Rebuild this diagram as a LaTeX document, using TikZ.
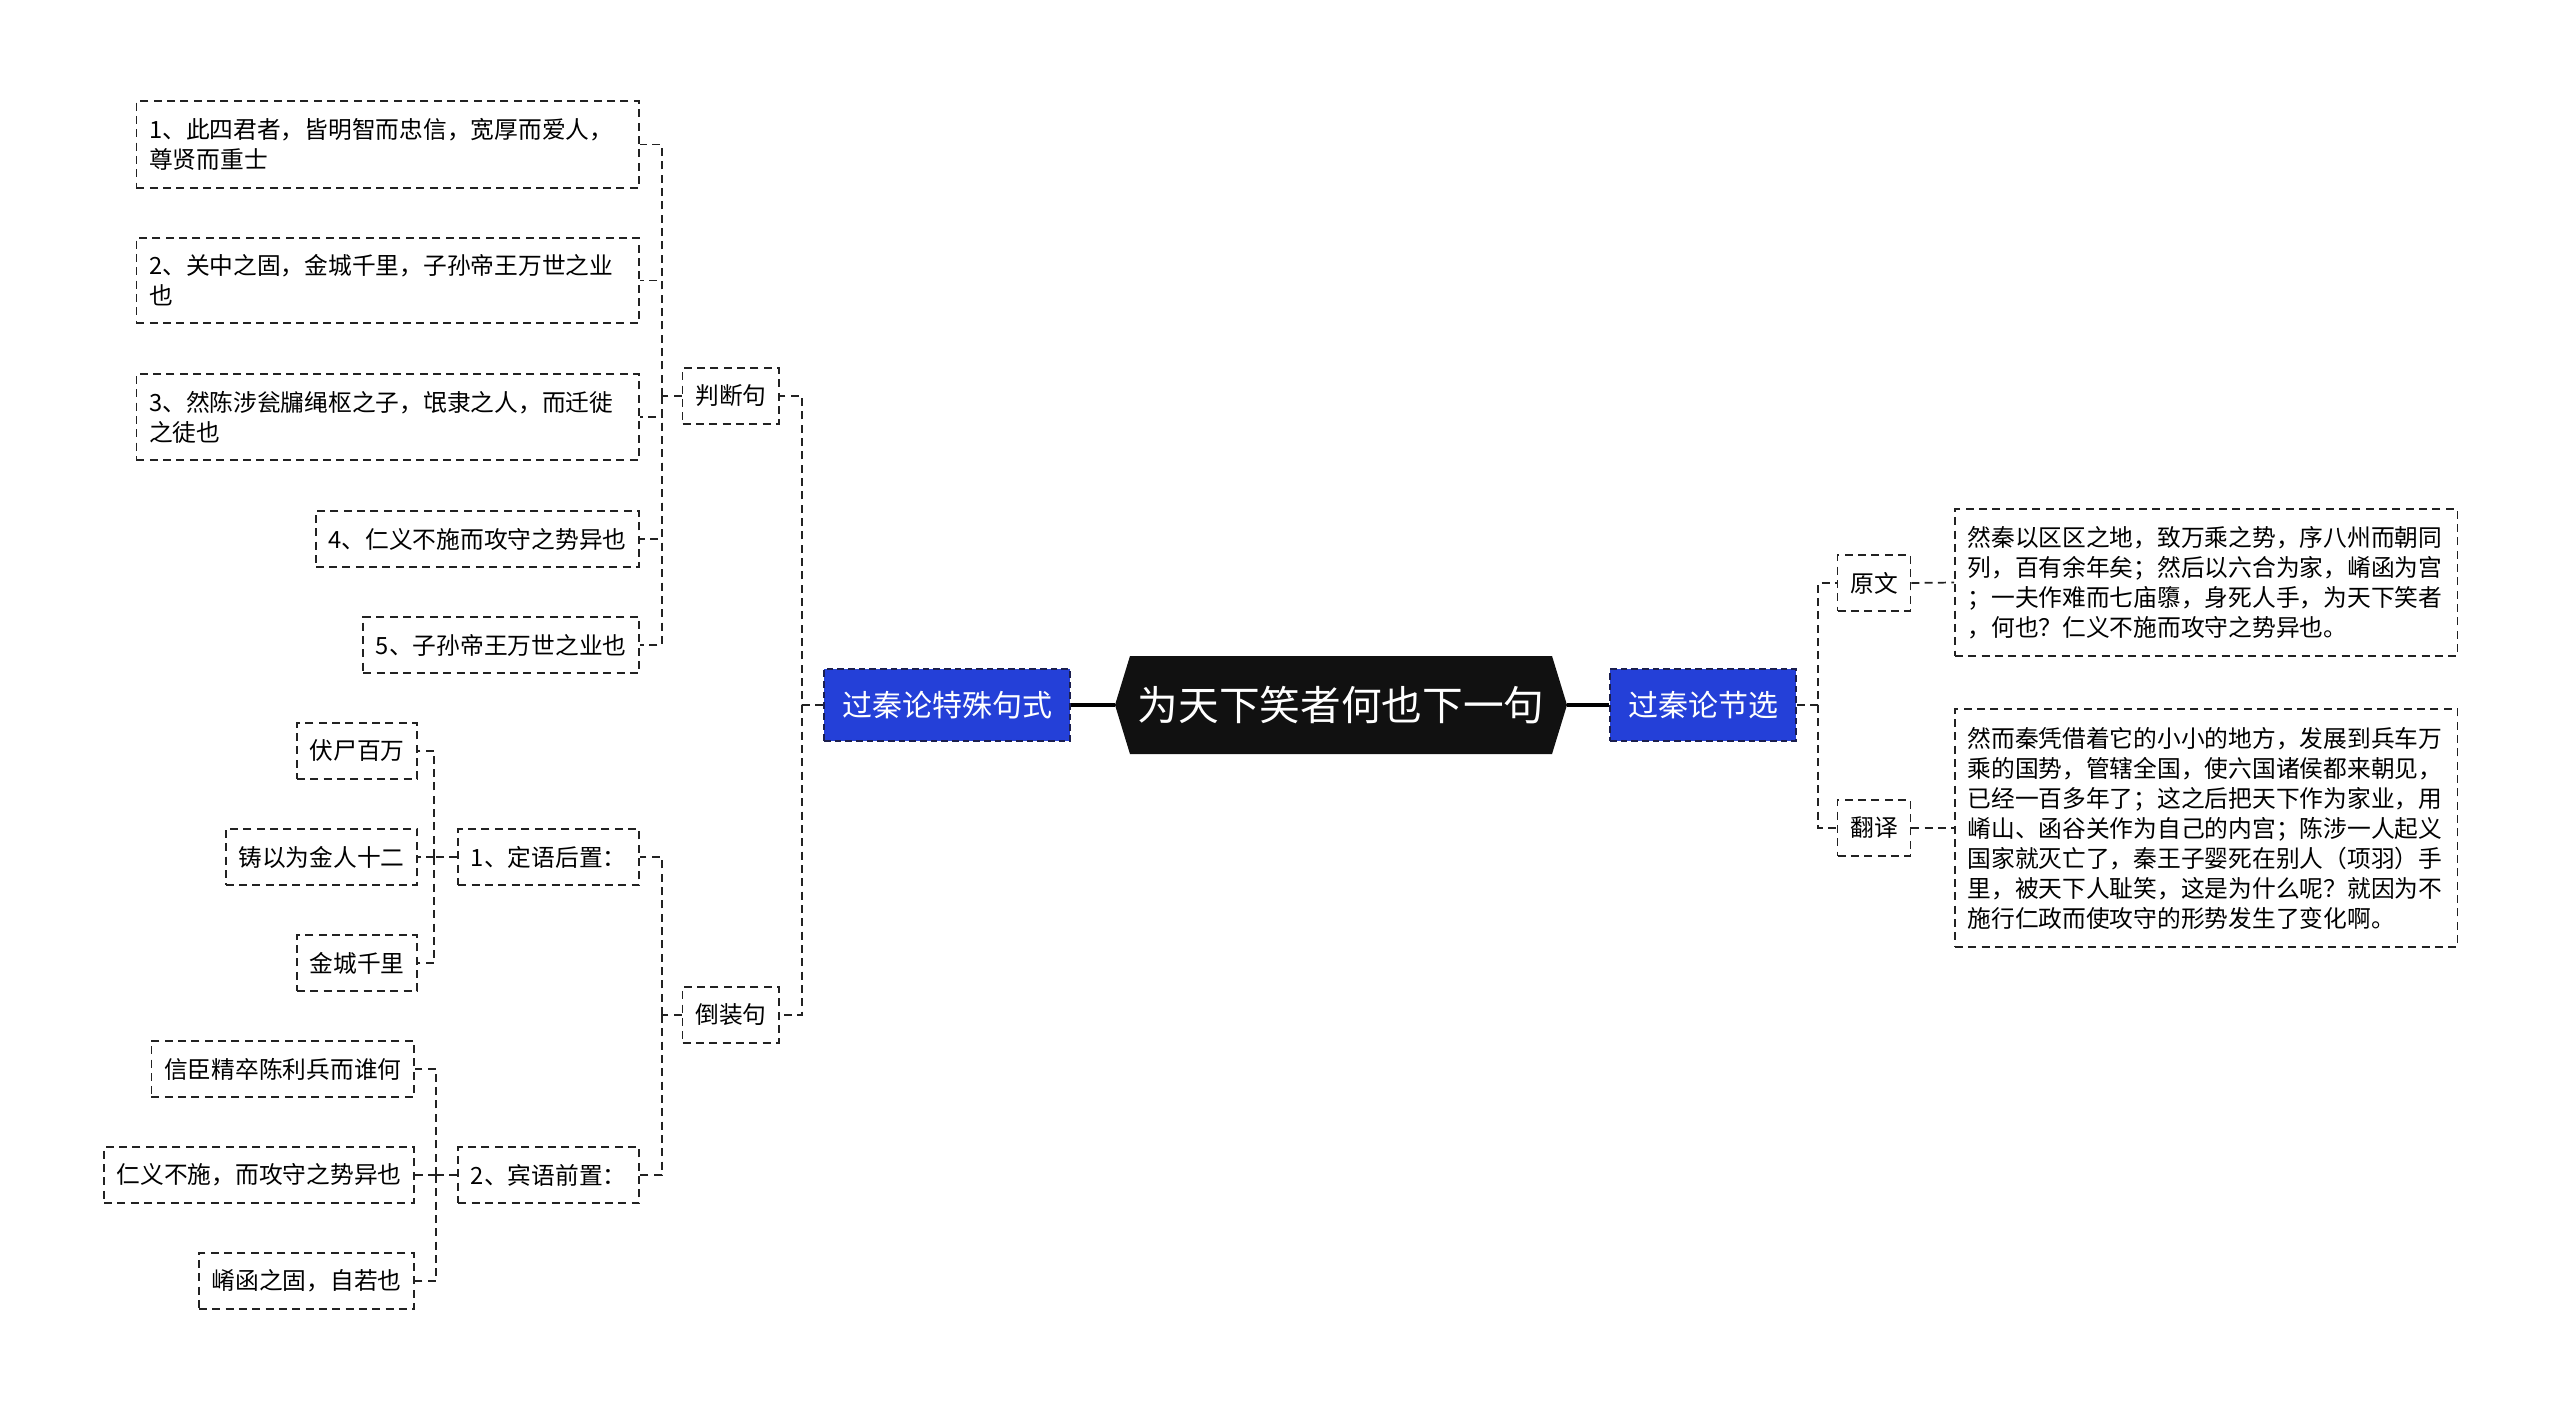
\documentclass[tikz,border=0pt]{standalone}
\usepackage{fontspec}
\setmainfont{Noto Sans CJK SC}
\usepackage{xcolor}
\usetikzlibrary{shapes.symbols}

\definecolor{rootfill}{HTML}{111111}
\definecolor{topicblue}{HTML}{2440D8}
\definecolor{topicedge}{HTML}{1B1F4F}
\definecolor{linegray}{HTML}{222222}

\tikzset{
  leaf/.style={draw=linegray, line width=1.3pt, dash pattern=on 6pt off 4pt,
    inner xsep=9.5pt, inner ysep=0pt, minimum height=42pt,
    font=\fontsize{17.8}{22.5}\selectfont},
  textbox/.style={leaf, align=left, text width=358pt},
  topic/.style={fill=topicblue, draw=topicedge, line width=1.3pt,
    dash pattern=on 5pt off 3pt, text=white, inner xsep=13.5pt,
    minimum height=54pt, font=\fontsize{22.5}{27}\selectfont},
  link/.style={draw=linegray, line width=1.3pt, dash pattern=on 6pt off 4pt},
  trunk/.style={draw=black, line width=2.3pt}
}

\begin{document}
\begin{tikzpicture}[x=0.75pt, y=-0.75pt]
    % canvas in pixels of the reference, y downwards
    \useasboundingbox (0,0) rectangle (2560,1411);

    \node[signal, signal to=west and east, signal pointer angle=146, fill=rootfill,
      text=white, minimum width=339pt, minimum height=73.5pt, inner xsep=2pt,
      font=\fontsize{30.5}{34}\selectfont] (root) at (1341,705) {为天下笑者何也下一句};
    \node[topic] (tsjs) at (947,705) {过秦论特殊句式};
    \node[topic] (jx) at (1703,705) {过秦论节选};
    \draw[trunk] (root.west) -- (tsjs.east);
    \draw[trunk] (root.east) -- (jx.west);

    % left: special sentence patterns
    \node[leaf, anchor=east] (pd) at (780,396) {判断句};
    \node[leaf, anchor=east] (dz) at (780,1015) {倒装句};
    \draw[link] (tsjs.west) -- ++(-21,0) coordinate (tsbus) |- (pd.east);
    \draw[link] (tsbus) |- (dz.east);

    \node[textbox, minimum height=65pt, anchor=east] (pd1) at (640,144.5)
      {1、此四君者，皆明智而忠信，宽厚而爱人，\\尊贤而重士};
    \node[textbox, minimum height=64pt, anchor=east] (pd2) at (640,280.5)
      {2、关中之固，金城千里，子孙帝王万世之业\\也};
    \node[textbox, minimum height=64.5pt, anchor=east] (pd3) at (640,417)
      {3、然陈涉瓮牖绳枢之子，氓隶之人，而迁徙\\之徒也};
    \node[leaf, anchor=east] (pd4) at (640,539) {4、仁义不施而攻守之势异也};
    \node[leaf, anchor=east] (pd5) at (640,645) {5、子孙帝王万世之业也};
    \draw[link] (pd.west) -- ++(-20,0) coordinate (pdbus);
    \foreach \n in {pd1,pd2,pd3,pd4,pd5}{\draw[link] (pdbus) |- (\n.east);}

    \node[leaf, anchor=east] (dy) at (640,857) {1、定语后置：};
    \node[leaf, anchor=east] (by) at (640,1175) {2、宾语前置：};
    \draw[link] (dz.west) -- ++(-20,0) coordinate (dzbus);
    \draw[link] (dzbus) |- (dy.east);
    \draw[link] (dzbus) |- (by.east);

    \node[leaf, anchor=east] (dy1) at (418,751) {伏尸百万};
    \node[leaf, anchor=east] (dy2) at (418,857) {铸以为金人十二};
    \node[leaf, anchor=east] (dy3) at (418,963) {金城千里};
    \draw[link] (dy.west) -- ++(-23,0) coordinate (dybus);
    \foreach \n in {dy1,dy2,dy3}{\draw[link] (dybus) |- (\n.east);}

    \node[leaf, anchor=east] (by1) at (415,1069) {信臣精卒陈利兵而谁何};
    \node[leaf, anchor=east] (by2) at (415,1175) {仁义不施，而攻守之势异也};
    \node[leaf, anchor=east] (by3) at (415,1281) {崤函之固，自若也};
    \draw[link] (by.west) -- ++(-21,0) coordinate (bybus);
    \foreach \n in {by1,by2,by3}{\draw[link] (bybus) |- (\n.east);}

    % right: excerpt and translation
    \node[leaf] (yw) at (1874,583) {原文};
    \node[leaf] (fy) at (1874,828) {翻译};
    \draw[link] (jx.east) -- ++(21,0) coordinate (jxbus) |- (yw.west);
    \draw[link] (jxbus) |- (fy.west);

    \node[textbox, minimum height=110pt, anchor=west] (ywt) at (1954,582.5)
      {然秦以区区之地，致万乘之势，序八州而朝同\\列，百有余年矣；然后以六合为家，崤函为宫\\；一夫作难而七庙隳，身死人手，为天下笑者\\，何也？仁义不施而攻守之势异也。};
    \node[textbox, minimum height=178.5pt, anchor=west] (fyt) at (1954,828)
      {然而秦凭借着它的小小的地方，发展到兵车万\\乘的国势，管辖全国，使六国诸侯都来朝见，\\已经一百多年了；这之后把天下作为家业，用\\崤山、函谷关作为自己的内宫；陈涉一人起义\\国家就灭亡了，秦王子婴死在别人（项羽）手\\里，被天下人耻笑，这是为什么呢？就因为不\\施行仁政而使攻守的形势发生了变化啊。};
    \draw[link] (yw.east) -- (ywt.west);
    \draw[link] (fy.east) -- (fyt.west);
\end{tikzpicture}
\end{document}
